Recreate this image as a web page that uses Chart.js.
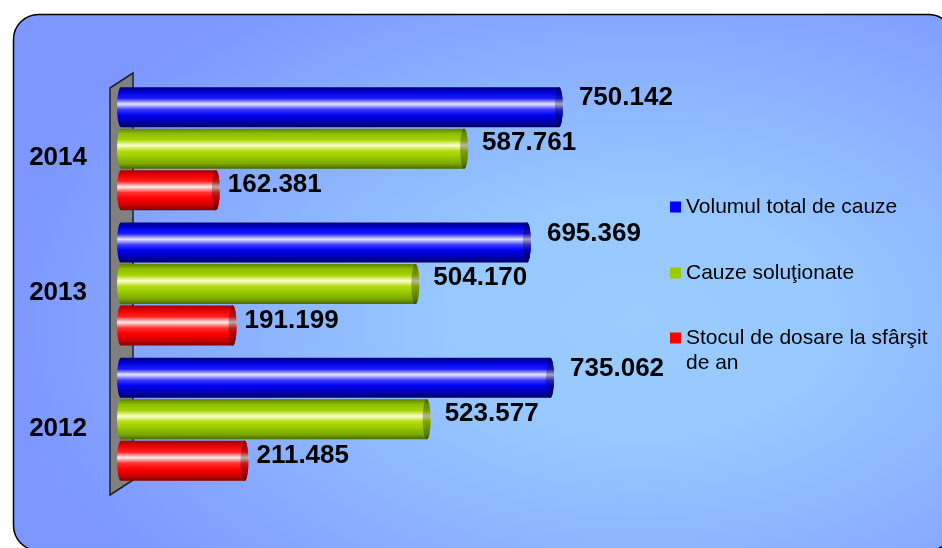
<!DOCTYPE html>
<html>
<head>
<meta charset="utf-8">
<script src="https://cdn.jsdelivr.net/npm/chart.js@4/dist/chart.umd.min.js"></script>
<style>
  body { margin: 0; background: #fff; }
  canvas { display: block; }
</style>
</head>
<body>
<canvas id="cauzeChart" width="942" height="548"></canvas>
<script>
const years = ["2014", "2013", "2012"];
const volumTotal = [750142, 695369, 735062];
const cauzeSolutionate = [587761, 504170, 523577];
const stocSfarsitAn = [162381, 191199, 211485];
const seriesNames = ["Volumul total de cauze", "Cauze soluţionate", "Stocul de dosare la sfârşit de an"];
const seriesColors = ["#0000ff", "#99cc00", "#ff0000"];

const FONT = "Arial, 'Liberation Sans', sans-serif";

// cylinder shading, top to bottom
const shades = [
    ["#000078", "#0000d8", "#1a1aff", "#e6e6ff", "#3a3aff", "#0000f0", "#0000a8", "#000060"],
    ["#5c8000", "#8cbc00", "#a6d400", "#ffffd0", "#b4dc10", "#99cc00", "#7aa600", "#4a6600"],
    ["#a00000", "#e80000", "#ff2020", "#fff0f0", "#ff3030", "#ff0000", "#c80000", "#800000"],
];
const labelDx = [20, 18, 12];
const labelDy = [-9, -6, -5];

function fmt(v) {
    return String(v).replace(/\B(?=(\d{3})+(?!\d))/g, ".");
}

function cylGradient(ctx, top, bottom, stops) {
    const g = ctx.createLinearGradient(0, top, 0, bottom);
    const pos = [0, 0.12, 0.28, 0.42, 0.56, 0.7, 0.88, 1];
    stops.forEach((c, i) => g.addColorStop(pos[i], c));
    return g;
}

function panelPath(ctx) {
    ctx.beginPath();
    ctx.roundRect(13.5, 14.5, 940, 536, 25);
}

const backdrop = {
    id: "backdrop",
    beforeDraw(chart) {
        const ctx = chart.ctx;
        // panel with a soft radial fill
        ctx.save();
        panelPath(ctx);
        ctx.clip();
        ctx.translate(640, 320);
        ctx.scale(1, 0.62);
        const g = ctx.createRadialGradient(0, 0, 0, 0, 0, 640);
        g.addColorStop(0, "#9accff");
        g.addColorStop(0.3, "#97c8ff");
        g.addColorStop(1, "#7d97ff");
        ctx.fillStyle = g;
        ctx.fillRect(-1000, -1000, 2000, 2000);
        ctx.restore();
        ctx.save();
        panelPath(ctx);
        ctx.lineWidth = 1.5;
        ctx.strokeStyle = "#000";
        ctx.stroke();
        ctx.restore();

        // grey 3d wall behind the bars
        const a = chart.chartArea;
        ctx.save();
        ctx.beginPath();
        ctx.moveTo(a.left - 11, a.top + 7);
        ctx.lineTo(a.left + 12, a.top - 8);
        ctx.lineTo(a.left + 12, a.bottom - 7);
        ctx.lineTo(a.left - 11, a.bottom + 8);
        ctx.closePath();
        ctx.fillStyle = "#808080";
        ctx.fill();
        ctx.strokeStyle = "#222";
        ctx.lineWidth = 1.5;
        ctx.stroke();
        ctx.restore();
    },
};

const cylinders = {
    id: "cylinders",
    afterDatasetsDraw(chart) {
        const ctx = chart.ctx;
        chart.data.datasets.forEach((ds, di) => {
            const meta = chart.getDatasetMeta(di);
            meta.data.forEach((bar, i) => {
                const p = bar.getProps(["x", "y", "base", "height"], true);
                const top = p.y - p.height / 2;
                const bottom = p.y + p.height / 2;
                const ry = p.height / 2;
                const rx = 4;
                ctx.save();
                ctx.beginPath();
                ctx.moveTo(p.base, top);
                ctx.lineTo(p.x, top);
                ctx.ellipse(p.x, p.y, rx, ry, 0, -Math.PI / 2, Math.PI / 2);
                ctx.lineTo(p.base, bottom);
                ctx.ellipse(p.base, p.y, rx, ry, 0, Math.PI / 2, Math.PI * 1.5);
                ctx.closePath();
                ctx.fillStyle = cylGradient(ctx, top, bottom, shades[di]);
                ctx.fill();
                // end face
                ctx.beginPath();
                ctx.ellipse(p.x, p.y, rx, ry, 0, 0, Math.PI * 2);
                ctx.fillStyle = cylGradient(ctx, top, bottom, shades[di]);
                ctx.fill();
                ctx.fillStyle = "rgba(0,0,0,0.28)";
                ctx.fill();
                ctx.restore();

                ctx.save();
                ctx.font = "bold 26px " + FONT;
                ctx.fillStyle = "#000";
                ctx.textAlign = "left";
                ctx.textBaseline = "middle";
                ctx.fillText(fmt(ds.data[i]), p.x + labelDx[di], p.y + labelDy[di]);
                ctx.restore();
            });
        });
    },
};

const sideLegend = {
    id: "sideLegend",
    afterDraw(chart) {
        const ctx = chart.ctx;
        const rows = [207, 273, 338];
        ctx.save();
        ctx.font = "21px " + FONT;
        ctx.textBaseline = "middle";
        ctx.textAlign = "left";
        chart.data.datasets.forEach((ds, di) => {
            const y = rows[di];
            ctx.fillStyle = seriesColors[di];
            ctx.fillRect(670, y - 5.5, 11, 11);
            ctx.fillStyle = "#000";
            // simple word wrap
            const words = ds.label.split(" ");
            let line = "";
            let ly = y;
            words.forEach((w) => {
                const test = line ? line + " " + w : w;
                if (ctx.measureText(test).width > 252 && line) {
                    ctx.fillText(line, 686, ly);
                    line = w;
                    ly += 25;
                } else {
                    line = test;
                }
            });
            ctx.fillText(line, 686, ly);
        });
        ctx.restore();
    },
};

const seriesData = [volumTotal, cauzeSolutionate, stocSfarsitAn];

new Chart(document.getElementById("cauzeChart"), {
    type: "bar",
    data: {
        labels: years,
        datasets: seriesData.map((d, i) => ({
            label: seriesNames[i],
            data: d,
            backgroundColor: "rgba(0,0,0,0)",
            borderWidth: 0,
            categoryPercentage: 0.92,
            barPercentage: 0.965,
        })),
    },
    options: {
        indexAxis: "y",
        responsive: false,
        animation: false,
        layout: {
            padding: { left: 0, right: 354, top: 81, bottom: 61 },
        },
        scales: {
            x: {
                display: false,
                min: 0,
                max: 800000,
            },
            y: {
                afterFit(scale) {
                    scale.width = 121; // zero line sits on the wall
                },
                border: { display: false },
                grid: { display: false, drawTicks: false },
                ticks: {
                    color: "#000",
                    padding: 34,
                    labelOffset: 9,
                    font: { family: FONT, size: 26, weight: "bold" },
                },
            },
        },
        plugins: {
            legend: { display: false },
            tooltip: { enabled: false },
        },
    },
    plugins: [backdrop, cylinders, sideLegend],
});
</script>
</body>
</html>
